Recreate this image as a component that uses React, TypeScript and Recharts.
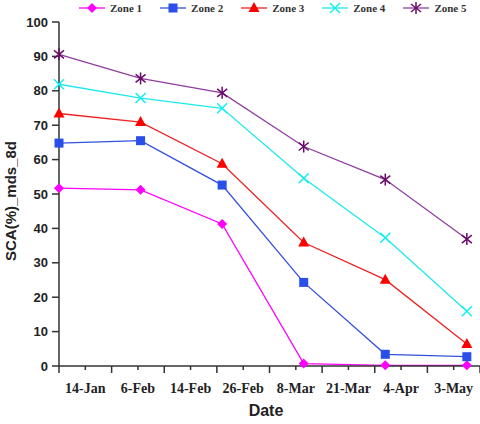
import React from 'react';
import { LineChart, Line, XAxis, YAxis } from 'recharts';

// x positions of the 8-day composites, in label-slot units (labels sit at half slots)
const slotPos = [0, 1.55, 3.1, 4.65, 6.2, 7.75];
const dateLabels = ['14-Jan', '6-Feb', '14-Feb', '26-Feb', '8-Mar', '21-Mar', '4-Apr', '3-May'];
const yTicks = [0, 10, 20, 30, 40, 50, 60, 70, 80, 90, 100];

const zone1 = [51.7, 51.2, 41.3, 0.7, 0.2, 0.2];
const zone2 = [64.8, 65.5, 52.6, 24.3, 3.4, 2.7];
const zone3 = [73.4, 70.9, 58.8, 35.9, 25.1, 6.4];
const zone4 = [81.9, 77.9, 74.9, 54.6, 37.3, 15.9];
const zone5 = [90.6, 83.6, 79.4, 63.8, 54.2, 36.9];

const zones = [
  { key: 'z1', name: 'Zone 1', line: '#ff00ff', mark: '#ff00ff', shape: 'diamond' },
  { key: 'z2', name: 'Zone 2', line: '#3350dc', mark: '#2a4ee8', shape: 'square' },
  { key: 'z3', name: 'Zone 3', line: '#ee2222', mark: '#ff0000', shape: 'triangle' },
  { key: 'z4', name: 'Zone 4', line: '#1ee8ee', mark: '#10f0f0', shape: 'x' },
  { key: 'z5', name: 'Zone 5', line: '#8e3f9e', mark: '#6a0a6a', shape: 'asterisk' },
];

const rows = slotPos.map((x, i) => ({
  x,
  z1: zone1[i],
  z2: zone2[i],
  z3: zone3[i],
  z4: zone4[i],
  z5: zone5[i],
}));

const xTicks = Array.from({ length: 17 }, (_, i) => i / 2);

const sansFont = '"Liberation Sans", Arial, sans-serif';
const serifFont = '"Liberation Serif", "Times New Roman", serif';

function Marker({ shape, cx, cy, color }: any) {
  if (cx == null || cy == null) return null;
  if (shape === 'diamond') {
    return <polygon points={`${cx},${cy - 5} ${cx + 5},${cy} ${cx},${cy + 5} ${cx - 5},${cy}`} fill={color} />;
  }
  if (shape === 'square') {
    return <rect x={cx - 4.5} y={cy - 4.5} width={9} height={9} fill={color} />;
  }
  if (shape === 'triangle') {
    return <polygon points={`${cx},${cy - 6} ${cx + 5.5},${cy + 4} ${cx - 5.5},${cy + 4}`} fill={color} />;
  }
  if (shape === 'x') {
    return (
      <g stroke={color} strokeWidth={1.5}>
        <line x1={cx - 5} y1={cy - 5} x2={cx + 5} y2={cy + 5} />
        <line x1={cx - 5} y1={cy + 5} x2={cx + 5} y2={cy - 5} />
      </g>
    );
  }
  return (
    <g stroke={color} strokeWidth={1.5}>
      <line x1={cx - 5} y1={cy - 4} x2={cx + 5} y2={cy + 4} />
      <line x1={cx - 5} y1={cy + 4} x2={cx + 5} y2={cy - 4} />
      <line x1={cx} y1={cy - 6} x2={cx} y2={cy + 6} />
    </g>
  );
}

const DateTick = (props: any) => {
  const { x, y, payload } = props;
  const v = payload.value;
  const major = Number.isInteger(v);
  return (
    <g>
      <line x1={x} y1={y} x2={x} y2={y + (major ? 7 : 4)} stroke="#333" strokeWidth={1.5} />
      {!major && (
        <text x={x} y={y + 27} textAnchor="middle" fontFamily={serifFont} fontWeight="bold" fontSize={14} fill="#222">
          {dateLabels[Math.floor(v)]}
        </text>
      )}
    </g>
  );
};

const ZoneLegend = () => (
  <div
    style={{
      position: 'absolute',
      left: 79,
      top: 0,
      width: 400,
      height: 16,
      display: 'flex',
      alignItems: 'center',
      whiteSpace: 'nowrap',
    }}
  >
    {zones.map((z) => (
      <div key={z.key} style={{ display: 'flex', alignItems: 'center', marginRight: 18, flexShrink: 0 }}>
        <svg width={26} height={14} style={{ display: 'block' }}>
          <line x1={0} y1={7} x2={26} y2={7} stroke={z.line} strokeWidth={1.3} />
          <Marker shape={z.shape} cx={13} cy={7} color={z.mark} />
        </svg>
        <span
          style={{
            marginLeft: 5,
            fontFamily: serifFont,
            fontWeight: 'bold',
            fontSize: 11,
            color: '#333',
            whiteSpace: 'nowrap',
          }}
        >
          {z.name}
        </span>
      </div>
    ))}
  </div>
);

export default function App() {
  return (
    <div style={{ position: 'absolute', left: 0, top: 0, width: 480, height: 424, background: '#fff' }}>
      <LineChart width={480} height={424} data={rows} margin={{ top: 22, right: 0, bottom: 0, left: 0 }}>
        <XAxis
          type="number"
          dataKey="x"
          domain={[0, 8]}
          ticks={xTicks}
          interval={0}
          tickSize={0}
          tickMargin={0}
          tickLine={false}
          tick={<DateTick />}
          height={58}
          axisLine={{ stroke: '#333', strokeWidth: 1.5 }}
          label={{
            content: () => (
              <text x={266} y={416} textAnchor="middle" fontFamily={sansFont} fontWeight="bold" fontSize={16} fill="#222">
                Date
              </text>
            ),
          }}
        />
        <YAxis
          domain={[0, 100]}
          ticks={yTicks}
          interval={0}
          width={59}
          tickSize={7}
          tickMargin={4}
          tickLine={{ stroke: '#333', strokeWidth: 1.5 }}
          axisLine={{ stroke: '#333', strokeWidth: 1.5 }}
          tick={{ fontSize: 13, fontWeight: 'bold', fill: '#222', fontFamily: sansFont }}
          label={{
            content: () => (
              <text
                x={10}
                y={201}
                transform="rotate(-90 10 201)"
                textAnchor="middle"
                dominantBaseline="central"
                fontFamily={sansFont}
                fontWeight="bold"
                fontSize={15}
                fill="#222"
              >
                SCA(%)_mds_8d
              </text>
            ),
          }}
        />
        {zones.map((z) => (
          <Line
            key={z.key}
            type="linear"
            dataKey={z.key}
            name={z.name}
            stroke={z.line}
            strokeWidth={1.3}
            isAnimationActive={false}
            dot={(p: any) => <Marker key={`${z.key}-${p.index}`} shape={z.shape} cx={p.cx} cy={p.cy} color={z.mark} />}
            activeDot={false}
          />
        ))}
      </LineChart>
      <ZoneLegend />
    </div>
  );
}
